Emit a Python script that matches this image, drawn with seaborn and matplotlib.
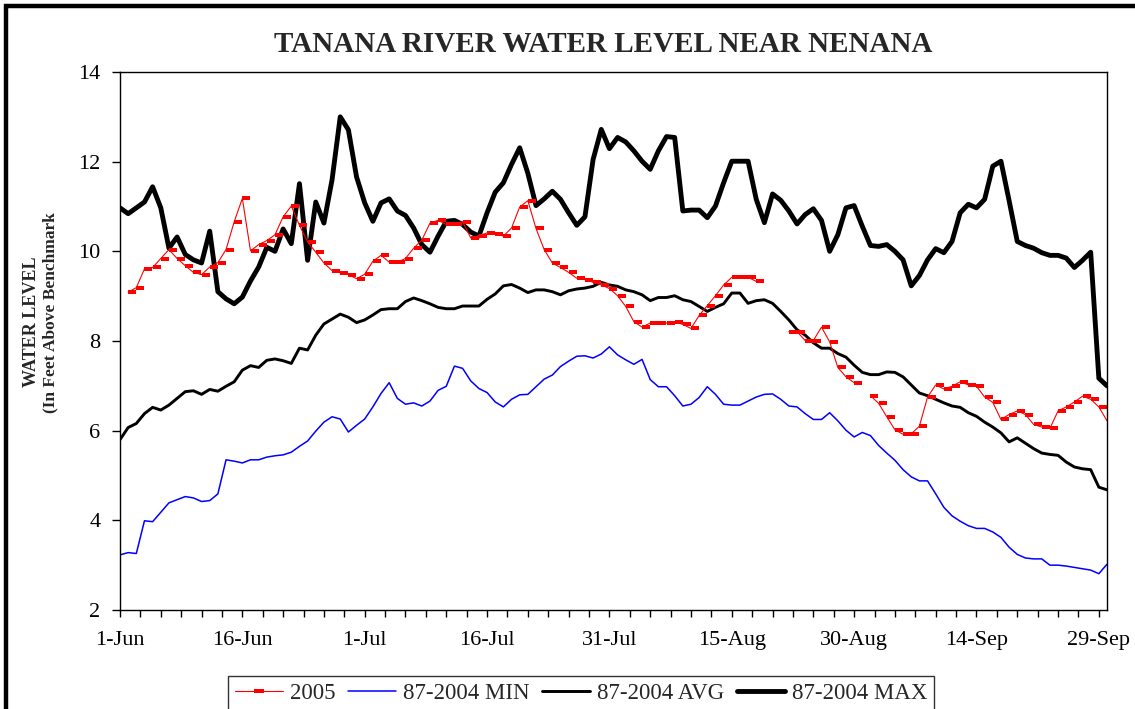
import numpy as np
import pandas as pd
import matplotlib
matplotlib.use("Agg")
import matplotlib.pyplot as plt
import seaborn as sns
from matplotlib.lines import Line2D
from matplotlib.path import Path
from matplotlib.markers import MarkerStyle
from matplotlib.patches import Rectangle

# ---------------- data ----------------
tick_labels = ['1-Jun', '16-Jun', '1-Jul', '16-Jul', '31-Jul', '15-Aug', '30-Aug', '14-Sep', '29-Sep']
series_names = ['2005', '87-2004 MIN', '87-2004 AVG', '87-2004 MAX']
nan = np.nan

max_vals = [10.97, 10.84, 10.97, 11.10, 11.44, 10.97, 10.07, 10.32, 9.93, 9.81,
            9.74, 10.45, 9.10, 8.94, 8.83, 8.98, 9.34, 9.65, 10.09, 10.00,
            10.50, 10.17, 11.51, 9.80, 11.10, 10.63, 11.60, 13.00, 12.71, 11.66,
            11.08, 10.67, 11.08, 11.17, 10.90, 10.80, 10.52, 10.15, 9.98, 10.34,
            10.67, 10.69, 10.60, 10.43, 10.34, 10.86, 11.32, 11.53, 11.94, 12.31,
            11.74, 11.02, 11.17, 11.34, 11.16, 10.86, 10.58, 10.77, 12.05, 12.72,
            12.29, 12.54, 12.44, 12.24, 12.01, 11.83, 12.24, 12.56, 12.54, 10.90,
            10.92, 10.92, 10.75, 11.01, 11.53, 12.01, 12.01, 12.01, 11.16, 10.64,
            11.28, 11.14, 10.90, 10.61, 10.82, 10.95, 10.69, 10.00, 10.37, 10.97,
            11.02, 10.56, 10.13, 10.11, 10.15, 10.00, 9.81, 9.23, 9.46, 9.81,
            10.06, 9.97, 10.22, 10.86, 11.05, 10.97, 11.16, 11.90, 12.01, 11.13,
            10.22, 10.13, 10.07, 9.97, 9.91, 9.91, 9.85, 9.64, 9.80, 9.98,
            7.17, 7.00]

avg_vals = [5.80, 6.07, 6.16, 6.38, 6.52, 6.46, 6.57, 6.72, 6.87, 6.89,
            6.81, 6.92, 6.88, 6.99, 7.09, 7.35, 7.45, 7.41, 7.57, 7.60,
            7.56, 7.50, 7.84, 7.80, 8.13, 8.38, 8.49, 8.60, 8.53, 8.41,
            8.47, 8.58, 8.70, 8.72, 8.72, 8.88, 8.96, 8.90, 8.83, 8.75,
            8.72, 8.72, 8.78, 8.78, 8.78, 8.93, 9.05, 9.23, 9.26, 9.18,
            9.08, 9.14, 9.14, 9.10, 9.03, 9.12, 9.16, 9.18, 9.22, 9.31,
            9.25, 9.22, 9.14, 9.10, 9.03, 8.90, 8.97, 8.97, 9.01, 8.92,
            8.88, 8.77, 8.66, 8.75, 8.83, 9.07, 9.07, 8.84, 8.90, 8.92,
            8.84, 8.66, 8.47, 8.25, 8.13, 7.96, 7.84, 7.84, 7.72, 7.64,
            7.46, 7.30, 7.25, 7.25, 7.31, 7.30, 7.20, 7.02, 6.84, 6.78,
            6.70, 6.62, 6.55, 6.52, 6.40, 6.32, 6.19, 6.08, 5.95, 5.75,
            5.84, 5.72, 5.60, 5.50, 5.47, 5.45, 5.30, 5.19, 5.15, 5.13,
            4.74, 4.68]

min_vals = [3.23, 3.28, 3.26, 3.99, 3.97, 4.18, 4.39, 4.46, 4.53, 4.50,
            4.42, 4.44, 4.59, 5.35, 5.32, 5.28, 5.35, 5.35, 5.41, 5.44,
            5.46, 5.52, 5.65, 5.77, 5.99, 6.19, 6.31, 6.26, 5.97, 6.12,
            6.26, 6.53, 6.83, 7.07, 6.72, 6.59, 6.62, 6.55, 6.66, 6.90,
            6.99, 7.44, 7.39, 7.11, 6.94, 6.85, 6.64, 6.53, 6.70, 6.80,
            6.81, 6.98, 7.15, 7.24, 7.43, 7.55, 7.66, 7.67, 7.62, 7.71,
            7.87, 7.69, 7.58, 7.48, 7.59, 7.14, 6.98, 6.98, 6.78, 6.55,
            6.59, 6.74, 6.98, 6.81, 6.59, 6.57, 6.57, 6.66, 6.75, 6.81,
            6.82, 6.70, 6.55, 6.53, 6.38, 6.25, 6.25, 6.40, 6.22, 6.01,
            5.86, 5.96, 5.89, 5.67, 5.50, 5.34, 5.13, 4.97, 4.88, 4.88,
            4.59, 4.29, 4.10, 3.98, 3.88, 3.82, 3.82, 3.74, 3.62, 3.40,
            3.24, 3.16, 3.14, 3.14, 3.00, 3.00, 2.98, 2.95, 2.92, 2.89,
            2.81, 3.02]

y2005_vals = [nan, 9.09, 9.19, 9.61, 9.64, 9.84, 10.04, 9.84, 9.68, 9.53,
              9.48, 9.65, 9.75, 10.04, 10.66, 11.18, 10.01, 10.15, 10.24, 10.37,
              10.77, 11.01, 10.58, 10.21, 9.98, 9.74, 9.57, 9.52, 9.48, 9.39,
              9.49, 9.78, 9.91, 9.76, 9.76, 9.84, 10.07, 10.25, 10.63, 10.69,
              10.60, 10.60, 10.66, 10.30, 10.35, 10.41, 10.39, 10.34, 10.52, 10.99,
              11.13, 10.51, 10.04, 9.74, 9.64, 9.53, 9.40, 9.37, 9.31, 9.25,
              9.17, 9.01, 8.77, 8.43, 8.31, 8.40, 8.40, 8.40, 8.43, 8.37,
              8.28, 8.57, 8.79, 9.01, 9.25, 9.42, 9.42, 9.42, 9.33, nan,
              nan, nan, 8.21, 8.21, 8.01, 8.01, 8.31, 7.98, 7.41, 7.20,
              7.07, nan, 6.78, 6.61, 6.31, 6.02, 5.92, 5.93, 6.10, 6.75,
              7.02, 6.93, 6.99, 7.09, 7.02, 6.99, 6.75, 6.63, 6.25, 6.36,
              6.44, 6.36, 6.14, 6.08, 6.05, 6.44, 6.53, 6.64, 6.77, 6.70,
              6.53, 6.22]

n_days = len(max_vals)
day = np.arange(n_days)

# ---------------- figure ----------------
sns.set_style("white")
plt.rcParams['font.family'] = ['Liberation Serif', 'DejaVu Serif']

W, H = 1135, 709
fig = plt.figure(figsize=(W / 100, H / 100), dpi=100)
ax = fig.add_axes([120 / W, 1 - 610 / H, (1107 - 120) / W, (610 - 72) / H])

df = pd.DataFrame({'day': day, 'MAX': max_vals, 'AVG': avg_vals, 'MIN': min_vals, 'Y2005': y2005_vals})

LW_MIN, LW_AVG, LW_MAX, LW_RED = 1.1, 2.1, 3.5, 0.8

sns.lineplot(data=df, x='day', y='MIN', color='#0000FF', lw=LW_MIN, ax=ax, legend=False)
sns.lineplot(data=df, x='day', y='AVG', color='black', lw=LW_AVG, ax=ax, legend=False)
sns.lineplot(data=df, x='day', y='MAX', color='black', lw=LW_MAX, ax=ax, legend=False)

# 2005 series with gaps (segments split at missing values)
red = df[['day', 'Y2005']].copy()
red['seg'] = red['Y2005'].isna().cumsum()
red = red.dropna()
dash_path = Path([(0, -0.2), (1, -0.2), (1, 0.2), (0, 0.2), (0, -0.2)],
                 [Path.MOVETO, Path.LINETO, Path.LINETO, Path.LINETO, Path.CLOSEPOLY])
sns.lineplot(data=red, x='day', y='Y2005', units='seg', estimator=None, color='red', lw=LW_RED,
             marker=MarkerStyle(dash_path), markersize=12, markerfacecolor='red',
             markeredgecolor='red', markeredgewidth=0, ax=ax, legend=False)

ax.set_xlim(0, n_days - 1)
ax.set_ylim(2, 14)
ax.set_xticks(np.arange(0, n_days, 15))
ax.set_xticklabels(tick_labels)
ax.set_xticks(np.arange(0, n_days, 2.5), minor=True)
ax.set_yticks(np.arange(2, 15, 2))
ax.set_xlabel('')
ax.set_ylabel('')
for s in ax.spines.values():
    s.set_color('black')
    s.set_linewidth(1.0)
ax.tick_params(axis='both', which='both', direction='out', color='black', width=1,
               bottom=True, left=True, labelsize=16, labelcolor='black')
ax.tick_params(axis='x', which='both', length=5, pad=10)
ax.tick_params(axis='y', which='major', length=6, pad=8)

# title and y label
fig.text(603 / W, 1 - 44 / H, 'TANANA RIVER WATER LEVEL NEAR NENANA', ha='center', va='center',
         fontsize=21, fontweight='bold')
fig.text(31 / W, 1 - 322 / H, 'WATER LEVEL', rotation=90, ha='center', va='center',
         fontsize=13, fontweight='bold')
fig.text(50 / W, 1 - 313 / H, '(In Feet Above Benchmark', rotation=90, ha='center', va='center',
         fontsize=12.5, fontweight='bold')

# legend
handles = [
    Line2D([], [], color='red', lw=LW_RED,
           marker=MarkerStyle(Path([(-0.5, -0.2), (0.5, -0.2), (0.5, 0.2), (-0.5, 0.2), (-0.5, -0.2)],
                                   [Path.MOVETO, Path.LINETO, Path.LINETO, Path.LINETO, Path.CLOSEPOLY])),
           markersize=7, markerfacecolor='red', markeredgewidth=0),
    Line2D([], [], color='#0000FF', lw=LW_MIN),
    Line2D([], [], color='black', lw=LW_AVG),
    Line2D([], [], color='black', lw=LW_MAX),
]
leg = fig.legend(handles, series_names, loc='upper left', bbox_to_anchor=(228 / W, 1 - 676 / H),
                 ncol=4, frameon=True, fancybox=False, edgecolor='black', fontsize=16.5,
                 handlelength=2.1, handletextpad=0.3, columnspacing=0.55, borderpad=0.3,
                 borderaxespad=0)
leg.get_frame().set_linewidth(1.0)

# outer frame
fig.patches.append(Rectangle((5.5 / W, -0.1), 1.2, 1.1 - 5.5 / H, transform=fig.transFigure,
                             fill=False, edgecolor='black', lw=3.2, clip_on=False))

fig.savefig('out.png', dpi=100)
